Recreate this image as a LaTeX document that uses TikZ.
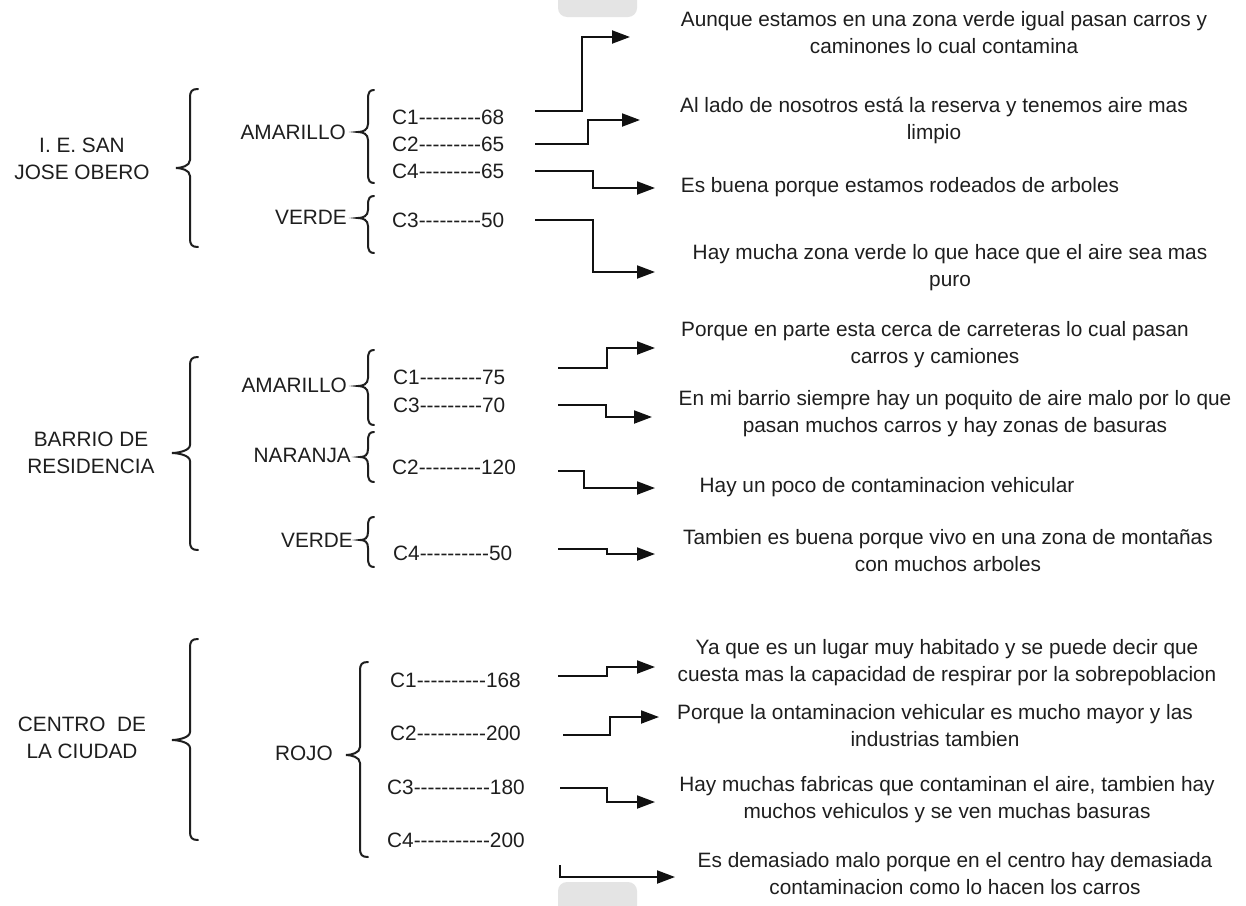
\documentclass[tikz,border=0pt]{standalone}
\usepackage{fontspec}
\setmainfont{Liberation Sans}
\usetikzlibrary{arrows.meta}
\definecolor{ink}{HTML}{1E1E1E}
\definecolor{wire}{HTML}{111111}
\definecolor{tabgray}{HTML}{E4E4E4}

% a run of separate hyphens (no dash ligatures)
\newcommand{\hyphens}[1]{\foreach \k in {1,...,#1}{-{}}}

% curly brace: spine x, top y, tip y, bottom y, end offset, tip offset
\newcommand{\curlybrace}[6]{%
  \draw[bracket] ({#1+#5},#2) .. controls ({#1+2},#2) and (#1,{#2+2}) .. (#1,{#2+9})
    -- (#1,{#3-8}) .. controls (#1,{#3-2}) and ({#1-#6+5},#3) .. ({#1-#6},#3)
    .. controls ({#1-#6+5},#3) and (#1,{#3+2}) .. (#1,{#3+8})
    -- (#1,{#4-9}) .. controls (#1,{#4-2}) and ({#1+2},#4) .. ({#1+#5},#4);}

\tikzset{
  txt/.style={font=\fontsize{20.8pt}{27pt}\selectfont, text=ink, inner sep=0pt, align=center},
  code/.style={txt, anchor=west},
  colour/.style={txt, anchor=east},
  note/.style={txt},
  link/.style={draw=wire, line width=2pt, -{Triangle[length=18pt,width=13pt]}},
  bracket/.style={draw=ink, line width=2pt, line cap=round},
  tab/.style={fill=tabgray, rounded corners=9pt}
}

\begin{document}
\begin{tikzpicture}[x=1pt, y=-1pt]
\useasboundingbox (0,0) rectangle (1246,905);
\fill[white] (0,0) rectangle (1246,905);

% grey tabs at the top and bottom edges
\begin{scope}
  \clip (0,0) rectangle (1246,905);
  \fill[tab] (558,-20) rectangle (637,17);
  \fill[tab] (558,882) rectangle (637,925);
\end{scope}

% ---------- I. E. San Jose Obero ----------
\node[txt] (site1) at (82,159) {I. E. SAN\\JOSE OBERO};
\curlybrace{190}{89}{168}{247}{8}{14}
\node[colour] (am1) at (346,132) {AMARILLO};
\curlybrace{368}{90}{132}{183}{6}{10}
\node[colour] (ve1) at (347,217) {VERDE};
\curlybrace{368}{196}{218}{253}{6}{10}

\node[code] (g1c1) at (392,117) {C1\hyphens{9}68};
\node[code] (g1c2) at (392,144) {C2\hyphens{9}65};
\node[code] (g1c4) at (392,171) {C4\hyphens{9}65};
\node[code] (g1c3) at (392,220) {C3\hyphens{9}50};

\node[note] (t1) at (944,33) {Aunque estamos en una zona verde igual pasan carros y\\caminones lo cual contamina};
\node[note] (t2) at (934,120) {Al lado de nosotros está la reserva y tenemos aire mas\\limpio};
\node[note] (t3) at (900,187) {Es buena porque estamos rodeados de arboles};
\node[note] (t4) at (950,268) {Hay mucha zona verde lo que hace que el aire sea mas\\puro};

\coordinate (a1) at (535,111); \coordinate (b1) at (630,37);
\coordinate (a2) at (535,144); \coordinate (b2) at (640,120);
\coordinate (a3) at (535,171); \coordinate (b3) at (655,188);
\coordinate (a4) at (535,220); \coordinate (b4) at (655,272);
\draw[link] (a1) -- ++(47,0) |- (b1);
\draw[link] (a2) -- ++(53,0) |- (b2);
\draw[link] (a3) -- ++(58,0) |- (b3);
\draw[link] (a4) -- ++(58,0) |- (b4);

% ---------- Barrio de residencia ----------
\node[txt] (site2) at (91,453) {BARRIO DE\\RESIDENCIA};
\curlybrace{190}{357}{453}{550}{8}{18}
\node[colour] (am2) at (347,385) {AMARILLO};
\curlybrace{368}{350}{386}{425}{6}{10}
\node[colour] (na2) at (351,455) {NARANJA};
\curlybrace{368}{432}{457}{482}{6}{8}
\node[colour] (ve2) at (353,540) {VERDE};
\curlybrace{368}{517}{540}{567}{6}{8}

\node[code] (g2c1) at (393,377) {C1\hyphens{9}75};
\node[code] (g2c3) at (393,405) {C3\hyphens{9}70};
\node[code] (g2c2) at (392,467) {C2\hyphens{9}120};
\node[code] (g2c4) at (393,553) {C4\hyphens{10}50};

\node[note] (t5) at (935,345) {Porque en parte esta cerca de carreteras lo cual pasan\\carros y camiones};
\node[note] (t6) at (955,414) {En mi barrio siempre hay un poquito de aire malo por lo que\\pasan muchos carros y hay zonas de basuras};
\node[note] (t7) at (887,487) {Hay un poco de contaminacion vehicular};
\node[note] (t8) at (948,551) {Tambien es buena porque vivo en una zona de montañas\\con muchos arboles};

\coordinate (a5) at (558,368); \coordinate (b5) at (655,348);
\coordinate (a6) at (558,405); \coordinate (b6) at (652,417);
\coordinate (a7) at (558,471); \coordinate (b7) at (655,488);
\coordinate (a8) at (558,549); \coordinate (b8) at (655,554);
\draw[link] (a5) -- ++(49,0) |- (b5);
\draw[link] (a6) -- ++(48,0) |- (b6);
\draw[link] (a7) -- ++(26,0) |- (b7);
\draw[link] (a8) -- ++(49,0) |- (b8);

% ---------- Centro de la ciudad ----------
\node[txt] (site3) at (82,738) {CENTRO \ DE\\LA CIUDAD};
\curlybrace{190}{639}{740}{840}{8}{18}
\node[colour] (ro3) at (333,753) {ROJO};
\curlybrace{360}{662}{755}{857}{8}{14}

\node[code] (g3c1) at (390,680) {C1\hyphens{10}168};
\node[code] (g3c2) at (390,733) {C2\hyphens{10}200};
\node[code] (g3c3) at (387,787) {C3\hyphens{11}180};
\node[code] (g3c4) at (387,840) {C4\hyphens{11}200};

\node[note] (t9) at (947,663) {Ya que es un lugar muy habitado y se puede decir que\\cuesta mas la capacidad de respirar por la sobrepoblacion};
\node[note] (t10) at (935,726) {Porque la ontaminacion vehicular es mucho mayor y las\\industrias tambien};
\node[note] (t11) at (947,800) {Hay muchas fabricas que contaminan el aire, tambien hay\\muchos vehiculos y se ven muchas basuras};
\node[note] (t12) at (955,874) {Es demasiado malo porque en el centro hay demasiada\\contaminacion como lo hacen los carros};

\coordinate (a9) at (558,676); \coordinate (b9) at (655,667);
\coordinate (a10) at (563,735); \coordinate (b10) at (659,717);
\coordinate (a11) at (560,788); \coordinate (b11) at (655,802);
\coordinate (a12) at (560,865); \coordinate (b12) at (675,877);
\draw[link] (a9) -- ++(49,0) |- (b9);
\draw[link] (a10) -- ++(47,0) |- (b10);
\draw[link] (a11) -- ++(47,0) |- (b11);
\draw[link] (a12) |- (b12);
\end{tikzpicture}
\end{document}
